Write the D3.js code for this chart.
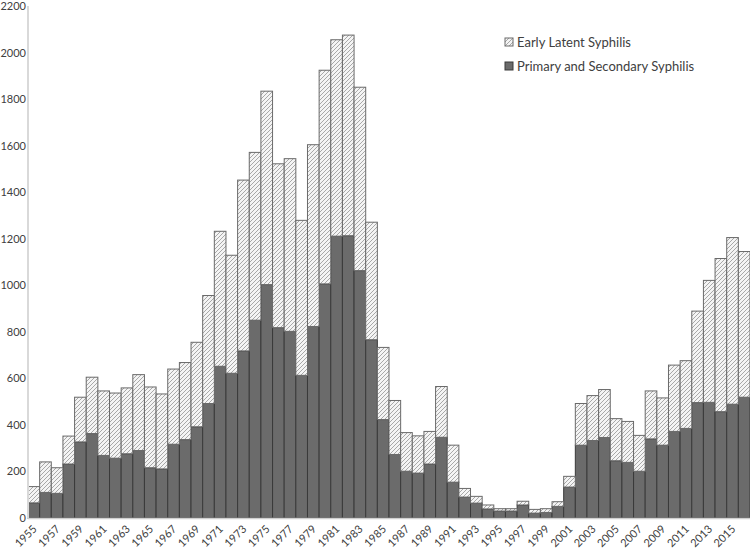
<!DOCTYPE html>
<html>
<head>
<meta charset="utf-8">
<script src="https://cdn.jsdelivr.net/npm/d3@7"></script>
<style>
  body { margin: 0; background: #fff; }
  svg { display: block; font-family: Lato, "Open Sans", sans-serif; }
</style>
</head>
<body>
<svg id="chart" width="750" height="550"></svg>
<script>
const years = d3.range(1955, 2017)

// primary and secondary cases (dark bars)
const primarySecondary = [
  65, 110, 106, 232, 327, 363, 269, 257, 276, 290,
  216, 211, 317, 337, 392, 492, 652, 622, 718, 850,
  1003, 818, 802, 613, 823, 1006, 1211, 1213, 1063, 766,
  423, 273, 201, 193, 232, 347, 154, 90, 64, 39,
  30, 30, 56, 21, 24, 50, 133, 313, 333, 346,
  246, 239, 201, 340, 313, 372, 385, 496, 497, 457,
  489, 519
]

// early latent cases (hatched, stacked on top)
const earlyLatent = [
  70, 131, 110, 120, 192, 242, 277, 280, 283, 326,
  347, 322, 323, 331, 363, 464, 580, 507, 734, 721,
  831, 704, 742, 666, 781, 918, 844, 862, 788, 505,
  310, 232, 166, 160, 140, 218, 159, 37, 29, 17,
  10, 10, 16, 16, 16, 20, 46, 179, 193, 206,
  181, 176, 154, 206, 203, 285, 291, 393, 524, 658,
  716, 626
]

const yTicks = d3.range(0, 2201, 200)
const xLabels = years.filter(y => y % 2 === 1)
const seriesNames = ['Early Latent Syphilis', 'Primary and Secondary Syphilis']

const plotLeft = 28, plotRight = 750, plotTop = 6, plotBottom = 518

const rows = years.map((yr, i) => ({year: yr, ps: primarySecondary[i], el: earlyLatent[i]}))
const stacked = d3.stack().keys(['ps', 'el'])(rows)

const svg = d3.select('#chart')

const defs = svg.append('defs')
const hatch = defs.append('pattern')
  .attr('id', 'hatch')
  .attr('patternUnits', 'userSpaceOnUse')
  .attr('width', 4)
  .attr('height', 4)
hatch.append('rect').attr('width', 4).attr('height', 4).attr('fill', '#f4f4f4')
hatch.append('path')
  .attr('d', 'M-1,1 l2,-2 M0,4 l4,-4 M3,5 l2,-2')
  .attr('stroke', '#a8a8a8')
  .attr('stroke-width', 1)

const xScale = d3.scaleBand()
  .domain(years)
  .range([plotLeft, plotRight])
  .paddingInner(0)
  .paddingOuter(0)

const yScale = d3.scaleLinear()
  .domain([0, 2200])
  .range([plotBottom, plotTop])

const fills = ['#6b6b6b', 'url(#hatch)']
const strokes = ['#3a3a3a', '#6a6a6a']

svg.append('g')
  .selectAll('g')
  .data(stacked)
  .enter()
  .append('g')
  .attr('fill', (d, i) => fills[i])
  .attr('stroke', (d, i) => strokes[i])
  .attr('stroke-width', 1)
  .selectAll('rect')
  .data(d => d)
  .enter()
  .append('rect')
  .attr('x', d => xScale(d.data.year))
  .attr('width', xScale.bandwidth())
  .attr('y', d => yScale(d[1]))
  .attr('height', d => yScale(d[0]) - yScale(d[1]))

// axis lines
svg.append('line')
  .attr('x1', plotLeft).attr('x2', plotLeft)
  .attr('y1', plotTop).attr('y2', plotBottom)
  .attr('stroke', '#d9d9d9').attr('stroke-width', 2)
svg.append('line')
  .attr('x1', plotLeft).attr('x2', plotRight)
  .attr('y1', plotBottom + 0.5).attr('y2', plotBottom + 0.5)
  .attr('stroke', '#d0d0d0').attr('stroke-width', 1.5)

const yAxis = d3.axisLeft(yScale).tickValues(yTicks).tickFormat(d3.format('d')).tickSize(0).tickPadding(2)
svg.append('g')
  .attr('transform', 'translate(' + plotLeft + ',0)')
  .call(yAxis)
  .call(g => g.select('.domain').remove())
  .selectAll('text')
  .attr('font-size', 11)
  .attr('font-family', 'Lato, "Open Sans", sans-serif')
  .attr('fill', '#404040')

const xAxis = d3.axisBottom(xScale).tickValues(xLabels).tickSize(0).tickPadding(0)
svg.append('g')
  .attr('transform', 'translate(0,' + plotBottom + ')')
  .call(xAxis)
  .call(g => g.select('.domain').remove())
  .selectAll('text')
  .attr('font-size', 11)
  .attr('font-family', 'Lato, "Open Sans", sans-serif')
  .attr('fill', '#404040')
  .attr('text-anchor', 'end')
  .attr('y', 0)
  .attr('dy', '0.35em')
  .attr('transform', 'translate(1,9) rotate(-45)')

// legend
const legend = svg.append('g').attr('transform', 'translate(505,38)')
seriesNames.forEach((name, i) => {
  const row = legend.append('g').attr('transform', 'translate(0,' + (i * 24) + ')')
  row.append('rect')
    .attr('width', 8).attr('height', 8)
    .attr('fill', i === 0 ? 'url(#hatch)' : '#6b6b6b')
    .attr('stroke', i === 0 ? '#6a6a6a' : '#3a3a3a')
  row.append('text')
    .attr('x', 12).attr('y', 8)
    .attr('dy', '0.1em')
    .attr('font-size', 13)
    .attr('fill', '#404040')
    .text(name)
})
</script>
</body>
</html>
